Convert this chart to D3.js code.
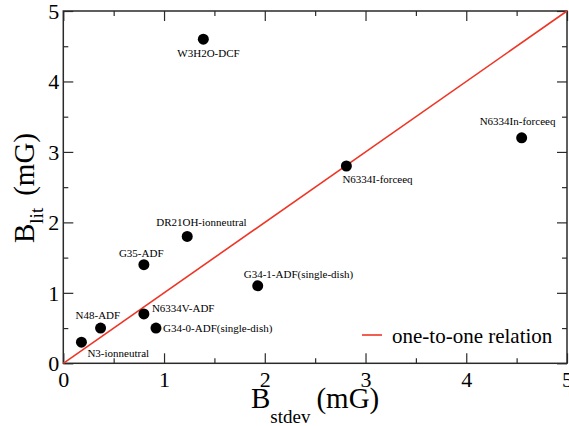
<!DOCTYPE html>
<html>
<head>
<meta charset="utf-8">
<script src="https://cdn.jsdelivr.net/npm/d3@7"></script>
<style>
  html, body { margin: 0; padding: 0; background: #fff; }
  svg { display: block; }
</style>
</head>
<body>
<svg id="chart" width="569" height="426"></svg>
<script>
// Field-strength estimates: dispersion-based (x) versus literature values (y), in mG
const sources = ["W3H2O-DCF", "N6334In-forceeq", "N6334I-forceeq", "DR21OH-ionneutral",
  "G35-ADF", "G34-1-ADF(single-dish)", "N6334V-ADF", "G34-0-ADF(single-dish)",
  "N48-ADF", "N3-ionneutral"];
const bStdev = [1.39, 4.55, 2.81, 1.23, 0.80, 1.93, 0.80, 0.92, 0.37, 0.18];
const bLit   = [4.6, 3.2, 2.8, 1.8, 1.4, 1.1, 0.7, 0.5, 0.5, 0.3];
const relationX = [0, 5];
const relationY = [0, 5];
const majorTicks = [0, 1, 2, 3, 4, 5];
const minorTicks = [0.5, 1.5, 2.5, 3.5, 4.5];
const legendLabel = "one-to-one relation";

// Label placement (text-start offset from each marker, px)
const labelPlacement = [
  { dx: -26, dy: 18 }, { dx: -42, dy: -13 }, { dx: -4, dy: 17 }, { dx: -31, dy: -10 },
  { dx: -25, dy: -8 }, { dx: -14, dy: -8 }, { dx: 8, dy: -2 }, { dx: 7, dy: 4 },
  { dx: -25, dy: -9 }, { dx: 6, dy: 15 }
];

const FONT = "'Liberation Serif', 'Times New Roman', Tinos, serif";
const svg = d3.select("#chart");
const plotL = 63.3, plotR = 567, plotT = 11, plotB = 363.3;
const x = d3.scaleLinear().domain([0, 5]).range([plotL, plotR]);
const y = d3.scaleLinear().domain([0, 5]).range([plotB, plotT]);
const frameColor = "#2a2a2a";
const red = "#ee3526";

// Axes: inward major and minor ticks on all four sides
function tickAxis(axisFn, scale, ticks, size, labels) {
  return axisFn(scale).tickValues(ticks).tickSizeInner(-size).tickSizeOuter(0)
    .tickPadding(labels ? 12 + size : 0)
    .tickFormat(labels ? d3.format("d") : () => "");
}
function drawAxis(axisFn, transform, labels) {
  const scale = (axisFn === d3.axisBottom || axisFn === d3.axisTop) ? x : y;
  const gMinor = svg.append("g").attr("transform", transform)
    .call(tickAxis(axisFn, scale, minorTicks, 5, false));
  const gMajor = svg.append("g").attr("transform", transform)
    .call(tickAxis(axisFn, scale, majorTicks, 10, labels));
  [gMinor, gMajor].forEach(g => {
    g.select(".domain").remove();
    g.selectAll(".tick line").attr("stroke", frameColor).attr("stroke-width", 1.2);
    if (!labels) g.selectAll(".tick text").remove();
  });
  return gMajor;
}
const xAxisG = drawAxis(d3.axisBottom, `translate(0,${plotB})`, true);
xAxisG.selectAll(".tick text").attr("fill", "#000")
  .style("font-family", FONT).style("font-size", "22px").attr("y", 8).attr("dy", "0.71em");
const yAxisG = drawAxis(d3.axisLeft, `translate(${plotL},0)`, true);
yAxisG.selectAll(".tick text").attr("fill", "#000")
  .style("font-family", FONT).style("font-size", "22px").attr("x", -4).attr("dy", "0.34em");
drawAxis(d3.axisTop, `translate(0,${plotT})`, false);
drawAxis(d3.axisRight, `translate(${plotR},0)`, false);

// Plot frame
svg.append("rect")
  .attr("x", x(0)).attr("y", y(5))
  .attr("width", x(5) - x(0)).attr("height", y(0) - y(5))
  .attr("fill", "none").attr("stroke", frameColor).attr("stroke-width", 1.5);

// One-to-one relation
const relation = relationX.map((v, i) => [v, relationY[i]]);
svg.append("path")
  .datum(relation)
  .attr("d", d3.line().x(d => x(d[0])).y(d => y(d[1])))
  .attr("fill", "none").attr("stroke", red).attr("stroke-width", 1.6);

// Sources
const pts = sources.map((name, i) => ({ name, bx: bStdev[i], by: bLit[i], off: labelPlacement[i] }));
svg.append("g").selectAll("circle").data(pts).join("circle")
  .attr("cx", d => x(d.bx)).attr("cy", d => y(d.by)).attr("r", 5.5).attr("fill", "#000");
svg.append("g").selectAll("text").data(pts).join("text")
  .attr("x", d => x(d.bx) + d.off.dx).attr("y", d => y(d.by) + d.off.dy)
  .style("font-family", FONT).style("font-size", "11px").attr("fill", "#000")
  .text(d => d.name);

// Legend
svg.append("line").attr("x1", 362).attr("x2", 382).attr("y1", 335).attr("y2", 335)
  .attr("stroke", red).attr("stroke-width", 1.6);
svg.append("text").attr("x", 392).attr("y", 342.5)
  .style("font-family", FONT).style("font-size", "21px").attr("fill", "#000")
  .text(legendLabel);

// Axis titles
const xTitle = svg.append("text").attr("x", 251).attr("y", 408)
  .style("font-family", FONT).style("font-size", "29px").attr("fill", "#000");
xTitle.append("tspan").text("B");
xTitle.append("tspan").style("font-size", "19px").attr("dy", 15).text("stdev");
xTitle.append("tspan").attr("dy", -15).attr("dx", 6).text("(mG)");

const yTitle = svg.append("text").attr("transform", "translate(34,243) rotate(-90)")
  .style("font-family", FONT).style("font-size", "29px").attr("fill", "#000");
yTitle.append("tspan").text("B");
yTitle.append("tspan").style("font-size", "19px").attr("dy", 9).text("lit");
yTitle.append("tspan").attr("dy", -9).attr("dx", 12).text("(mG)");
</script>
</body>
</html>
